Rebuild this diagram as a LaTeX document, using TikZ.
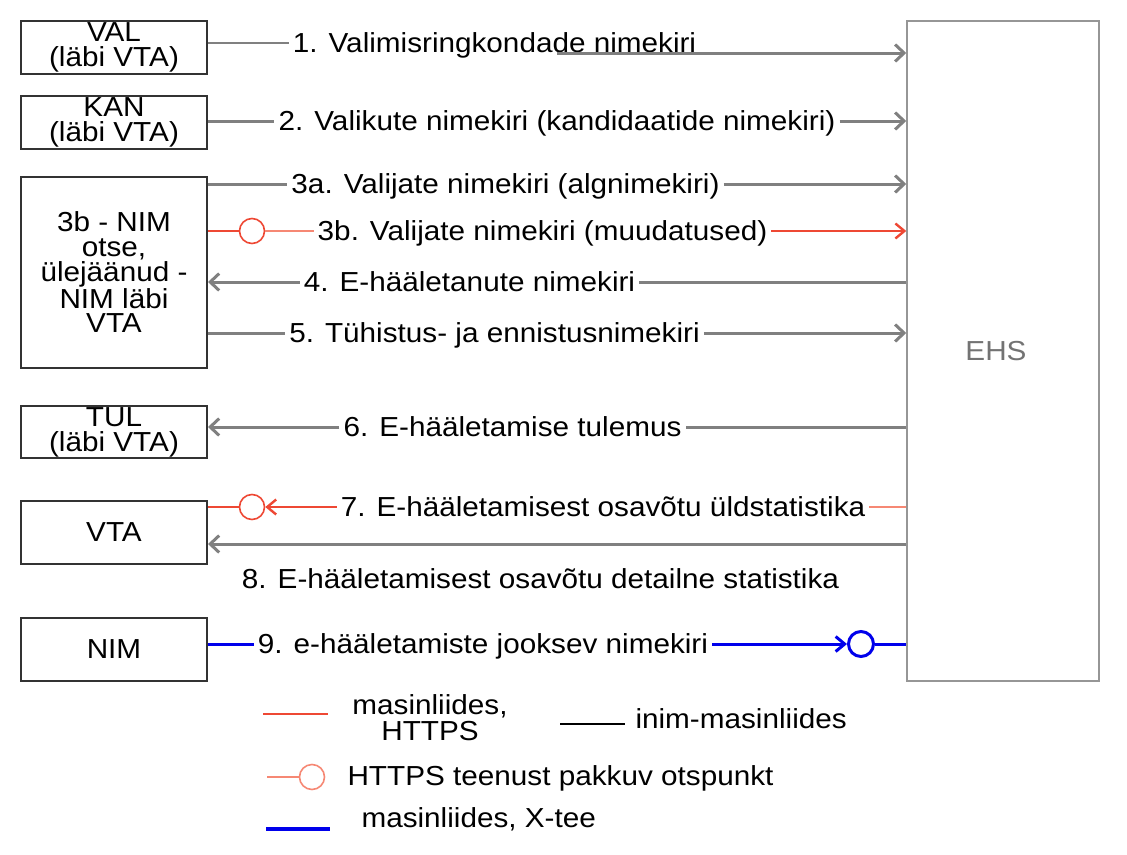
\documentclass[tikz,border=0pt]{standalone}
\usepackage{fontspec}
\setmainfont[FakeStretch=1.08]{Liberation Sans}
\usetikzlibrary{arrows.meta}
\definecolor{lineGrey}{RGB}{128,128,128}
\definecolor{boxGrey}{RGB}{51,51,51}
\definecolor{ehsGrey}{RGB}{150,150,150}
\definecolor{ehsText}{RGB}{115,115,115}
\definecolor{httpsRed}{RGB}{238,72,52}
\definecolor{lightRed}{RGB}{246,136,116}
\definecolor{xteeBlue}{RGB}{0,0,235}

\begin{document}
\begin{tikzpicture}[x=1pt,y=-1pt,
    every node/.style={font=\fontsize{27.5}{24.8}\selectfont},
    box/.style={draw=boxGrey,line width=2pt,minimum width=186pt,align=center,inner sep=0pt},
    lbl/.style={inner sep=4pt,text height=23pt,text depth=5pt},
    grayline/.style={draw=lineGrey,line width=3pt},
    grayarrow/.style={grayline,-{Straight Barb[length=9pt,width=17pt]}},
    redline/.style={draw=httpsRed,line width=1.6pt},
    pinkline/.style={draw=lightRed,line width=2.4pt},
    redarrow/.style={draw=httpsRed,line width=2.4pt,-{Straight Barb[length=9pt,width=15pt]}},
    blueline/.style={draw=xteeBlue,line width=3pt},
    bluearrow/.style={blueline,-{Straight Barb[length=9pt,width=15pt]}},
    port/.style={circle,draw=httpsRed,line width=1.6pt,minimum size=25pt,inner sep=0pt,fill=white},
    blueport/.style={port,draw=xteeBlue,line width=3pt}]
    \useasboundingbox (0,0) rectangle (1127,854);

    \node[box,minimum height=53pt] (val) at (114,47.5) {VAL\\(läbi VTA)};
    \node[box,minimum height=53pt] (kan) at (114,122.5) {KAN\\(läbi VTA)};
    \node[box,minimum height=191pt] (mix) at (114,272.5) {3b - NIM\\otse,\\ülejäänud -\\NIM läbi\\VTA};
    \node[box,minimum height=52pt] (tul) at (114,432) {TUL\\(läbi VTA)};
    \node[box,minimum height=63pt] (vta) at (114,532.5) {VTA};
    \node[box,minimum height=63pt] (nim) at (114,649.5) {NIM};
    \node[draw=ehsGrey,line width=1.5pt,minimum width=192pt,minimum height=660pt,text=ehsText] (ehs) at (1003,351) {\kern-14pt EHS};

    \node[lbl] (l1) at (494.5,43) {1. Valimisringkondade nimekiri};
    \node[lbl] (l2) at (557,121) {2. Valikute nimekiri (kandidaatide nimekiri)};
    \node[lbl] (l3a) at (505.5,184) {3a. Valijate nimekiri (algnimekiri)};
    \node[lbl] (l3b) at (542.5,231) {3b. Valijate nimekiri (muudatused)};
    \node[lbl] (l4) at (469.5,282) {4. E-hääletanute nimekiri};
    \node[lbl] (l5) at (494.5,333) {5. Tühistus- ja ennistusnimekiri};
    \node[lbl] (l6) at (512.5,427) {6. E-hääletamise tulemus};
    \node[lbl] (l7) at (603,507) {7. E-hääletamisest osavõtu üldstatistika};
    \node[lbl] (l8) at (540.5,579) {8. E-hääletamisest osavõtu detailne statistika};
    \node[lbl] (l9) at (483,644) {9. e-hääletamiste jooksev nimekiri};

    \node[port] (p3b) at (252,231) {};
    \node[port] (p7) at (252,507) {};
    \node[blueport] (p9) at (861,644) {};
    \coordinate (c1) at (557,53);
    \coordinate (c8) at (560,544);

    \draw[grayline,line width=2pt] (val.east |- l1) -- (l1.west);
    \draw[grayarrow] (c1) -- (ehs.west |- c1);
    \draw[grayline] (kan.east |- l2) -- (l2.west);
    \draw[grayarrow] (l2.east) -- (ehs.west |- l2);
    \draw[grayline] (mix.east |- l3a) -- (l3a.west);
    \draw[grayarrow] (l3a.east) -- (ehs.west |- l3a);
    \draw[redline] (mix.east |- p3b) -- (p3b.west);
    \draw[pinkline] (p3b.east) -- (l3b.west);
    \draw[redarrow] (l3b.east) -- (ehs.west |- l3b);
    \draw[grayline] (ehs.west |- l4) -- (l4.east);
    \draw[grayarrow] (l4.west) -- (mix.east |- l4);
    \draw[grayline] (mix.east |- l5) -- (l5.west);
    \draw[grayarrow] (l5.east) -- (ehs.west |- l5);
    \draw[grayline] (ehs.west |- l6) -- (l6.east);
    \draw[grayarrow] (l6.west) -- (tul.east |- l6);
    \draw[pinkline] (ehs.west |- l7) -- (l7.east);
    \draw[redarrow] (l7.west) -- (p7.east);
    \draw[redline] (vta.east |- p7) -- (p7.west);
    \draw[grayarrow] (ehs.west |- c8) -- (vta.east |- c8);
    \draw[blueline] (nim.east |- l9) -- (l9.west);
    \draw[bluearrow] (l9.east) -- (p9.west);
    \draw[blueline] (p9.east) -- (ehs.west |- p9);

    \node[align=center,font=\fontsize{27.5}{26}\selectfont] (g1) at (430,718) {masinliides,\\HTTPS};
    \draw[redline] (263,714) -- (328,714);
    \node[anchor=west] (g2) at (632,719) {inim-masinliides};
    \draw[draw=black,line width=1.6pt] (g2.west) ++(-72pt,-5pt) -- ++(65pt,0);
    \node[port,draw=lightRed] (g3) at (312,777) {};
    \draw[redline,draw=lightRed] (g3.west) -- ++(-32pt,0);
    \node[anchor=west] (g4) at (344,778) {HTTPS teenust pakkuv otspunkt};
    \node[anchor=west] (g5) at (358,819) {masinliides, X-tee};
    \draw[blueline,line width=4pt] (266,829) -- (330,829);
\end{tikzpicture}
\end{document}
